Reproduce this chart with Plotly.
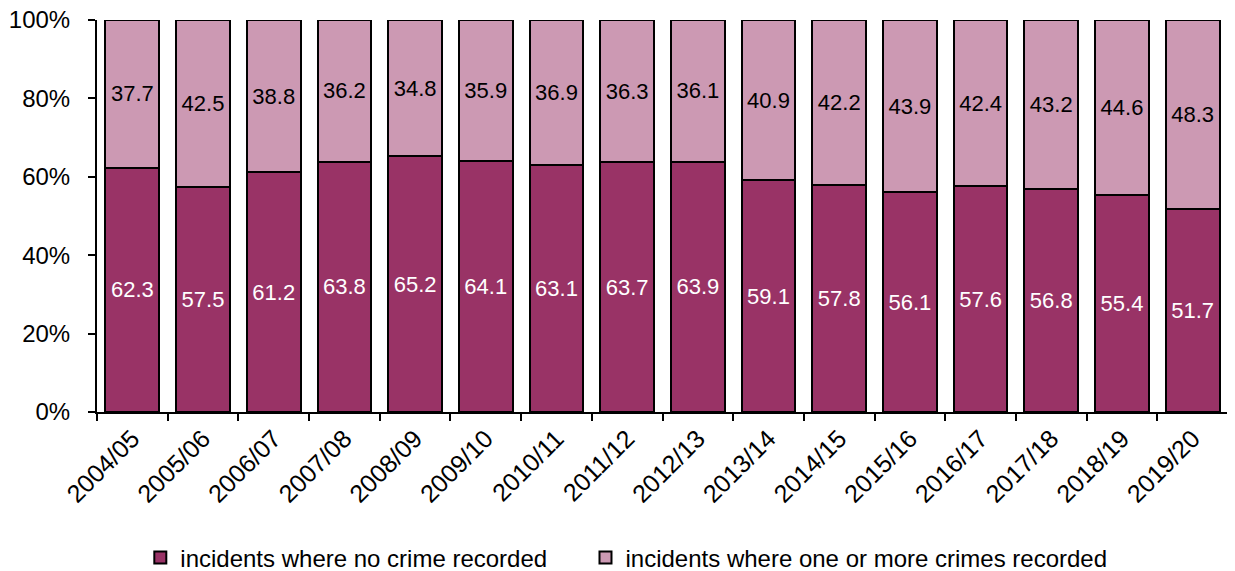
import plotly.graph_objects as go

years = ["2004/05", "2005/06", "2006/07", "2007/08", "2008/09", "2009/10", "2010/11", "2011/12",
         "2012/13", "2013/14", "2014/15", "2015/16", "2016/17", "2017/18", "2018/19", "2019/20"]
no_crime = [62.3, 57.5, 61.2, 63.8, 65.2, 64.1, 63.1, 63.7, 63.9, 59.1, 57.8, 56.1, 57.6, 56.8, 55.4, 51.7]
crime = [37.7, 42.5, 38.8, 36.2, 34.8, 35.9, 36.9, 36.3, 36.1, 40.9, 42.2, 43.9, 42.4, 43.2, 44.6, 48.3]

FONT = "Liberation Sans, Arial, sans-serif"
DARK = "#993366"
LIGHT = "#CC99B3"
PAD = "\u00a0" * 5

fig = go.Figure()
fig.add_trace(go.Bar(
    x=years, y=no_crime, name="incidents where no crime recorded" + PAD,
    marker=dict(color=DARK, line=dict(color="black", width=2)),
    text=[f"{v:.1f}" for v in no_crime], textposition="inside", insidetextanchor="middle",
    textangle=0, constraintext="none",
    textfont=dict(color="white", size=22, family=FONT),
))
fig.add_trace(go.Bar(
    x=years, y=crime, name="incidents where one or more crimes recorded",
    marker=dict(color=LIGHT, line=dict(color="black", width=2)),
    text=[f"{v:.1f}" for v in crime], textposition="inside", insidetextanchor="middle",
    textangle=0, constraintext="none",
    textfont=dict(color="black", size=22, family=FONT),
))

# page body has an 8px default margin; figure size/margins compensate for it
fig.update_layout(
    barmode="stack", bargap=0.24,
    width=1227, height=563,
    margin=dict(l=89, r=7, t=12, b=159, autoexpand=False),
    paper_bgcolor="white", plot_bgcolor="white",
    font=dict(family=FONT, size=24, color="black"),
    showlegend=True,
    legend=dict(orientation="h", x=0.468, xanchor="center",
                y=-0.372, yanchor="middle",
                font=dict(size=24, family=FONT), traceorder="normal",
                itemwidth=30),
)
fig.update_xaxes(
    type="category", showline=True, linecolor="black", linewidth=2,
    ticks="outside", tickson="boundaries", ticklen=7, tickwidth=2, tickcolor="black",
    tickangle=-45, tickfont=dict(size=25, family=FONT), showgrid=False, automargin=False,
)
fig.update_yaxes(
    range=[0, 100], tickvals=[0, 20, 40, 60, 80, 100],
    ticktext=["0%", "20%", "40%", "60%", "80%", "100%"],
    showline=True, linecolor="black", linewidth=2,
    ticks="outside", ticklen=7, tickwidth=2, tickcolor="black", ticklabelstandoff=13,
    ticklabeloverflow="allow",
    tickfont=dict(size=24, family=FONT), showgrid=False, zeroline=False, automargin=False,
)

fig.write_html("out.html")
